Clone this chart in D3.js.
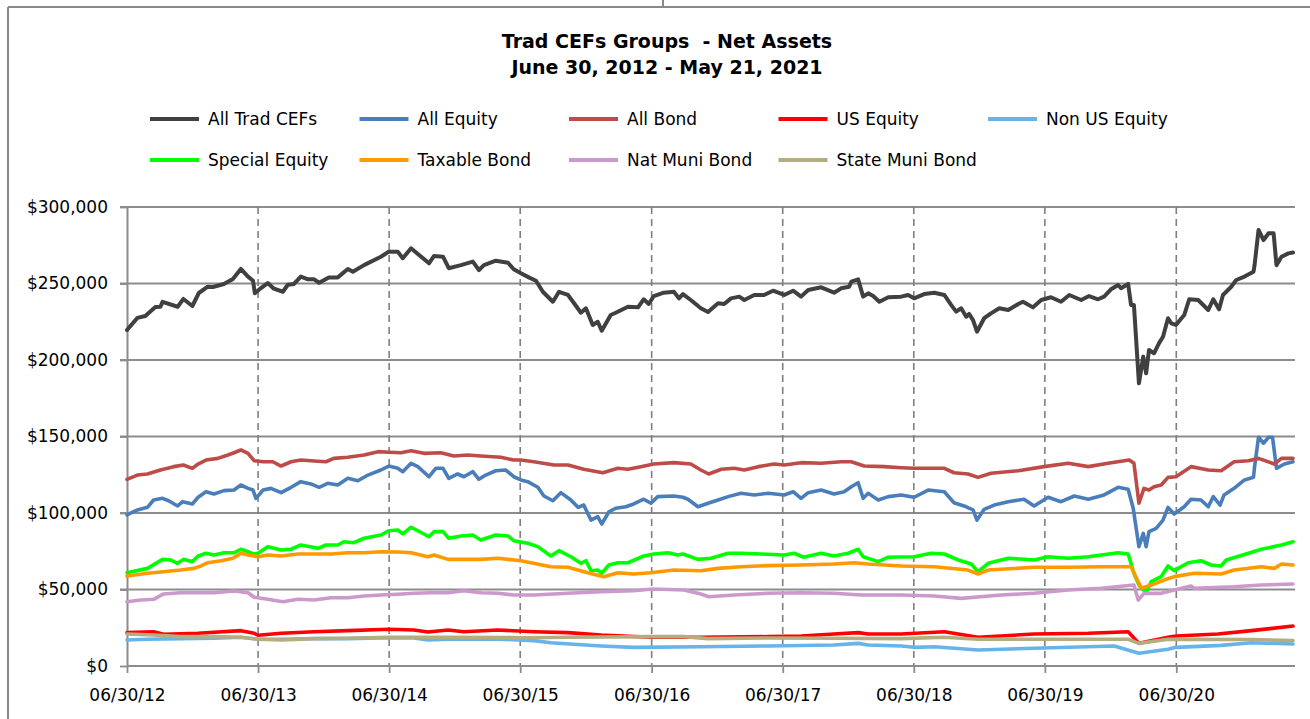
<!DOCTYPE html>
<html>
<head>
<meta charset="utf-8">
<script src="https://cdn.jsdelivr.net/npm/d3@7"></script>
<style>
  html, body { margin: 0; padding: 0; background: #fff; }
  svg { display: block; font-family: "DejaVu Sans", sans-serif; }
</style>
</head>
<body>
<svg id="chart" width="1310" height="719"></svg>
<script>
// Net assets ($ millions), weekly closes sampled; dates are ISO ordinal (year-dayOfYear)
const allTrad = [
  ["2012-182",219600],["2012-211",227500],["2012-233",228800],["2012-261",234600],["2012-275",234800],["2012-281",238000],["2012-323",234800],["2012-339",239900],["2012-364",235300],
  ["2013-016",243800],["2013-041",247900],["2013-055",247700],["2013-086",249700],["2013-111",253000],["2013-133",259500],["2013-153",254500],["2013-167",251800],["2013-172",243600],["2013-189",247000],["2013-208",250300],["2013-225",246600],["2013-250",244600],["2013-264",249200],["2013-281",249700],["2013-300",254500],["2013-320",252700],["2013-337",252700],["2013-351",250500],
  ["2014-013",254000],["2014-038",254000],["2014-066",259500],["2014-080",257700],["2014-111",262000],["2014-158",267500],["2014-180",270800],["2014-205",270800],["2014-219",266500],["2014-242",273000],["2014-261",269300],["2014-292",263200],["2014-306",268000],["2014-331",267500],["2014-347",260000],
  ["2015-016",262000],["2015-049",264300],["2015-066",258800],["2015-080",262000],["2015-113",264900],["2015-147",263600],["2015-163",259300],["2015-183",256700],["2015-205",254000],["2015-225",251800],["2015-244",244600],["2015-272",238100],["2015-289",244600],["2015-314",242500],["2015-328",238100],["2015-350",230900],["2015-364",233800],
  ["2016-018",222900],["2016-032",225000],["2016-043",219100],["2016-068",229400],["2016-082",230900],["2016-116",234800],["2016-144",234400],["2016-160",239700],["2016-174",236600],["2016-188",241800],["2016-216",244000],["2016-244",244600],["2016-258",240300],["2016-269",243100],["2016-291",239200],["2016-319",233800],["2016-339",231400],
  ["2017-001",237100],["2017-018",236600],["2017-037",240300],["2017-060",241400],["2017-074",239200],["2017-102",242500],["2017-129",242500],["2017-154",245300],["2017-185",242500],["2017-210",245300],["2017-232",241400],["2017-252",245800],["2017-288",247500],["2017-324",244000],["2017-344",246900],
  ["2018-001",247900],["2018-007",251200],["2018-026",252700],["2018-040",241400],["2018-054",243600],["2018-068",241800],["2018-085",238100],["2018-110",241000],["2018-146",241400],["2018-165",242500],["2018-182",240300],["2018-210",243100],["2018-238",244000],["2018-266",242500],["2018-285",236000],["2018-299",231600],["2018-313",233800],["2018-327",228300],["2018-335",230100],["2018-346",226100],["2018-357",218500],
  ["2019-012",227300],["2019-031",230500],["2019-054",233800],["2019-079",232700],["2019-107",236600],["2019-120",238100],["2019-148",234400],["2019-171",239200],["2019-198",241000],["2019-226",238100],["2019-249",242500],["2019-282",239200],["2019-304",241800],["2019-329",239700],["2019-346",241400],["2019-365",246200],
  ["2020-020",249000],["2020-028",246900],["2020-048",249700],["2020-056",236000],["2020-064",236000],["2020-078",184800],["2020-090",202200],["2020-098",191300],["2020-106",206500],["2020-120",204400],["2020-134",211000],["2020-145",215200],["2020-159",227300],["2020-168",224000],["2020-181",222900],["2020-204",229400],["2020-218",239700],["2020-243",239200],["2020-271",232700],["2020-285",239700],["2020-301",233100],["2020-312",242500],["2020-335",247900],["2020-349",252300],
  ["2021-006",254500],["2021-031",257700],["2021-034",262000],["2021-045",285000],["2021-059",278400],["2021-073",282800],["2021-087",282800],["2021-095",262000],["2021-109",267500],["2021-128",269700],["2021-141",270200]
];

const allEquity = [
  ["2012-182",98700],["2012-211",102000],["2012-239",103700],["2012-256",108500],["2012-281",109600],["2012-298",108000],["2012-323",104600],["2012-337",107400],["2012-364",105900],
  ["2013-014",110300],["2013-036",113900],["2013-058",112400],["2013-086",114600],["2013-114",115000],["2013-133",118300],["2013-153",116100],["2013-167",115000],["2013-175",109600],["2013-195",115000],["2013-217",116100],["2013-245",113300],["2013-273",116800],["2013-300",120500],["2013-328",119000],["2013-351",116800],
  ["2014-010",119400],["2014-038",118300],["2014-066",122700],["2014-094",121100],["2014-122",124800],["2014-158",128100],["2014-180",130700],["2014-205",129200],["2014-219",127000],["2014-242",132500],["2014-261",130300],["2014-292",123700],["2014-311",129200],["2014-331",129200],["2014-347",122700],
  ["2015-007",125500],["2015-024",123700],["2015-049",127000],["2015-066",122000],["2015-085",124800],["2015-113",127600],["2015-141",128100],["2015-163",123700],["2015-183",121600],["2015-202",120500],["2015-230",116800],["2015-247",111100],["2015-272",108000],["2015-294",113300],["2015-322",108500],["2015-342",103700],["2015-358",105200],
  ["2016-013",95400],["2016-032",97600],["2016-043",92800],["2016-063",100800],["2016-082",103100],["2016-110",104100],["2016-132",105900],["2016-160",109000],["2016-180",106400],["2016-199",110700],["2016-244",111100],["2016-269",110300],["2016-283",109000],["2016-311",104100],["2016-339",106400],
  ["2017-001",108500],["2017-029",110700],["2017-065",112900],["2017-102",111800],["2017-141",112900],["2017-185",111800],["2017-210",113900],["2017-232",109600],["2017-252",113300],["2017-288",115000],["2017-324",112400],["2017-352",113900],
  ["2018-007",117200],["2018-026",119800],["2018-040",109600],["2018-054",112900],["2018-068",110700],["2018-082",108500],["2018-110",110700],["2018-146",111800],["2018-182",110300],["2018-221",115000],["2018-266",113900],["2018-293",106700],["2018-321",104600],["2018-346",102000],["2018-357",95400],
  ["2019-012",102400],["2019-040",105200],["2019-079",107400],["2019-123",109000],["2019-151",104600],["2019-190",110300],["2019-226",107400],["2019-263",111100],["2019-302",109000],["2019-346",111800],
  ["2020-020",116800],["2020-048",115500],["2020-062",103100],["2020-078",78000],["2020-090",86700],["2020-098",78000],["2020-106",87800],["2020-126",90000],["2020-145",95400],["2020-159",103700],["2020-176",99300],["2020-204",104100],["2020-223",109000],["2020-251",108500],["2020-271",104100],["2020-285",110700],["2020-304",105200],["2020-315",111800],["2020-343",116100],
  ["2021-006",121600],["2021-031",123300],["2021-034",130300],["2021-045",149500],["2021-059",145600],["2021-073",149500],["2021-084",149500],["2021-095",129200],["2021-117",132000],["2021-141",133500]
];

const allBond = [
  ["2012-182",122000],["2012-211",124800],["2012-239",125500],["2012-275",128100],["2012-312",130300],["2012-339",131400],["2012-364",129200],
  ["2013-014",132000],["2013-036",134600],["2013-069",135700],["2013-097",137900],["2013-114",139400],["2013-133",141200],["2013-153",139000],["2013-170",134200],["2013-195",133500],["2013-222",133500],["2013-245",130700],["2013-273",133500],["2013-300",134600],["2013-337",134000],
  ["2014-005",133500],["2014-027",135700],["2014-066",136400],["2014-111",137900],["2014-150",140100],["2014-180",139700],["2014-214",139400],["2014-242",140700],["2014-278",139000],["2014-325",139400],["2014-361",137300],
  ["2015-035",137900],["2015-071",137300],["2015-127",136400],["2015-163",134600],["2015-183",134600],["2015-219",133500],["2015-275",131400],["2015-314",131400],["2015-358",128600],
  ["2016-046",126300],["2016-088",129200],["2016-116",128600],["2016-152",130300],["2016-188",132000],["2016-244",132900],["2016-291",132000],["2016-319",128100],["2016-341",125500],
  ["2017-010",128600],["2017-046",129200],["2017-074",128100],["2017-113",130300],["2017-157",132000],["2017-185",131400],["2017-232",132900],["2017-288",132500],["2017-344",133500],
  ["2018-007",133500],["2018-043",130700],["2018-098",130300],["2018-146",129600],["2018-182",129200],["2018-238",129200],["2018-266",129200],["2018-293",126300],["2018-332",125500],["2018-360",123300],
  ["2019-031",126000],["2019-107",127600],["2019-179",130300],["2019-246",132500],["2019-302",130300],["2019-357",132500],
  ["2020-051",134600],["2020-064",132500],["2020-078",106400],["2020-092",116100],["2020-106",115000],["2020-120",117200],["2020-140",118300],["2020-159",123300],["2020-181",123700],["2020-223",130300],["2020-271",128100],["2020-307",127600],["2020-343",133500],
  ["2021-017",134200],["2021-045",135700],["2021-089",132000],["2021-109",135700],["2021-141",135700]
];

const usEquity = [
  ["2012-182",21800],["2012-256",22400],["2012-284",20700],
  ["2013-014",21400],["2013-133",23100],["2013-170",21400],["2013-181",20100],["2013-245",21400],["2013-337",22400],
  ["2014-066",23100],["2014-180",24000],["2014-250",23500],["2014-289",22200],["2014-345",23500],
  ["2015-024",22400],["2015-119",23500],["2015-219",22400],["2015-314",21800],
  ["2016-041",20300],["2016-180",18800],["2016-319",18800],
  ["2017-141",19200],["2017-232",19600],["2017-324",20900],
  ["2018-026",21800],["2018-054",20900],["2018-146",20900],["2018-266",22400],["2018-360",18800],
  ["2019-151",20900],["2019-302",21400],
  ["2020-048",22400],["2020-078",14800],["2020-159",18800],["2020-181",19600],["2020-298",20900],
  ["2021-025",23100],["2021-141",26100]
];

const nonUsEquity = [
  ["2012-182",17000],["2012-239",17500],["2012-331",17900],
  ["2013-058",18100],["2013-133",18800],["2013-181",17500],["2013-245",17500],["2013-337",17900],
  ["2014-066",17900],["2014-180",18500],["2014-250",18300],["2014-289",17000],["2014-345",17500],
  ["2015-071",17500],["2015-127",17500],["2015-219",16600],["2015-266",15200],
  ["2016-041",13100],["2016-132",12200],["2016-319",12600],
  ["2017-141",13100],["2017-324",13700],
  ["2018-026",14800],["2018-054",13700],["2018-146",13100],["2018-182",12200],["2018-238",12600],["2018-360",10500],
  ["2019-151",11600],
  ["2020-009",13100],["2020-078",8300],["2020-159",10900],["2020-181",12200],["2020-307",13500],
  ["2021-025",15200],["2021-141",14400]
];

const specialEquity = [
  ["2012-182",61000],["2012-239",63800],["2012-281",69700],["2012-303",69300],["2012-323",67100],["2012-339",69700],["2012-364",68200],
  ["2013-014",71900],["2013-036",73700],["2013-058",72500],["2013-086",74000],["2013-114",74000],["2013-133",76300],["2013-153",74700],["2013-167",73200],["2013-181",73700],["2013-208",78000],["2013-245",75800],["2013-273",76300],["2013-300",79100],["2013-348",76900],
  ["2014-005",79100],["2014-038",79100],["2014-055",81200],["2014-083",80600],["2014-111",83500],["2014-158",85600],["2014-180",88400],["2014-205",88900],["2014-219",86300],["2014-242",90700],["2014-261",88400],["2014-292",84500],["2014-306",87800],["2014-331",87800],["2014-347",83500],
  ["2015-016",85000],["2015-049",85600],["2015-071",82400],["2015-113",85600],["2015-147",85000],["2015-163",81900],["2015-202",80200],["2015-230",78000],["2015-266",71900],["2015-289",75400],["2015-322",71400],["2015-350",67100],["2015-364",68800],
  ["2016-013",62300],["2016-032",62700],["2016-043",60600],["2016-063",66000],["2016-088",67500],["2016-116",67500],["2016-160",71900],["2016-188",73200],["2016-227",74000],["2016-255",72500],["2016-269",73200],["2016-311",69700],["2016-347",70400],
  ["2017-029",73700],["2017-065",73700],["2017-121",73200],["2017-185",72500],["2017-213",73700],["2017-238",71100],["2017-288",73700],["2017-324",71900],["2017-363",73700],
  ["2018-026",76300],["2018-040",71400],["2018-082",68200],["2018-110",71100],["2018-182",71400],["2018-229",73700],["2018-266",73200],["2018-305",69300],["2018-341",66700],["2018-360",61600],
  ["2019-023",67100],["2019-079",70400],["2019-151",69300],["2019-190",71400],["2019-246",70400],["2019-302",71400],
  ["2020-020",74000],["2020-048",73200],["2020-064",60600],["2020-078",52900],["2020-098",47900],["2020-112",55100],["2020-140",58400],["2020-159",65400],["2020-176",62300],["2020-215",67500],["2020-251",68800],["2020-279",66000],["2020-307",65400],["2020-321",69300],
  ["2021-017",73700],["2021-053",76300],["2021-109",79100],["2021-141",81200]
];

const taxableBond = [
  ["2012-182",58800],["2012-239",60600],["2012-284",61600],["2012-331",62700],
  ["2013-002",63800],["2013-022",65400],["2013-041",67500],["2013-078",68800],["2013-111",70400],["2013-133",73700],["2013-153",72500],["2013-181",71400],["2013-208",72500],["2013-245",71900],["2013-292",73200],["2013-337",73200],
  ["2014-019",73200],["2014-066",74000],["2014-111",74000],["2014-158",74700],["2014-205",74500],["2014-242",74000],["2014-289",71400],["2014-306",72500],["2014-345",69700],
  ["2015-024",69700],["2015-071",69700],["2015-119",70400],["2015-183",68800],["2015-266",64900],["2015-314",64500],
  ["2016-004",61000],["2016-049",58400],["2016-088",61000],["2016-132",60100],["2016-180",61000],["2016-244",62700],["2016-319",62300],
  ["2017-001",63800],["2017-065",64900],["2017-141",65600],["2017-232",66000],["2017-324",66700],
  ["2018-015",67500],["2018-054",66700],["2018-146",65400],["2018-238",64900],["2018-332",62700],["2018-360",60100],
  ["2019-023",62700],["2019-151",64500],["2019-246",64500],["2019-338",64900],
  ["2020-056",64900],["2020-076",55100],["2020-084",50800],["2020-112",52900],["2020-148",56200],["2020-176",58400],["2020-232",60600],["2020-307",60100],["2020-343",62700],
  ["2021-053",64900],["2021-089",63800],["2021-109",66700],["2021-141",66000]
];

const natMuniBond = [
  ["2012-182",42000],["2012-220",43100],["2012-256",43600],["2012-284",47100],["2012-331",47900],
  ["2013-014",47900],["2013-058",47900],["2013-114",49000],["2013-153",47900],["2013-170",44900],["2013-208",43600],["2013-250",42000],["2013-292",43600],["2013-337",43100],
  ["2014-019",44600],["2014-066",44600],["2014-111",45800],["2014-158",46400],["2014-205",46900],["2014-250",47500],["2014-297",47900],["2014-345",47900],
  ["2015-024",49200],["2015-071",47900],["2015-119",47500],["2015-163",46400],["2015-219",46400],["2015-314",47500],
  ["2016-041",48600],["2016-132",49200],["2016-185",50300],["2016-272",49700],["2016-319",47100],["2016-341",45300],
  ["2017-046",46400],["2017-141",47500],["2017-232",47900],["2017-324",47500],
  ["2018-034",46400],["2018-146",46400],["2018-238",45800],["2018-313",44200],
  ["2019-059",46400],["2019-151",47500],["2019-246",49700],["2019-338",50800],
  ["2020-064",52900],["2020-076",43100],["2020-092",47500],["2020-140",47500],["2020-176",49700],["2020-223",52300],["2020-232",50800],["2020-343",51800],
  ["2021-053",52900],["2021-141",53600]
];

const stateMuniBond = [
  ["2012-182",20900],["2012-256",20300],["2012-331",19200],
  ["2013-058",19200],["2013-133",18800],["2013-181",17500],["2013-245",17000],["2013-337",17900],
  ["2014-066",18100],["2014-180",18800],["2014-345",18800],
  ["2015-205",18500],["2015-314",18800],
  ["2016-180",19200],["2016-272",19200],["2016-339",17900],
  ["2017-141",18300],["2017-324",18100],
  ["2018-146",17900],["2018-266",18800],["2018-360",17500],
  ["2019-151",17500],
  ["2020-048",17500],["2020-078",14800],["2020-159",17500],
  ["2021-025",17300],["2021-141",16600]
];

const seriesNames = ["All Trad CEFs","All Equity","All Bond","US Equity","Non US Equity",
                     "Special Equity","Taxable Bond","Nat Muni Bond","State Muni Bond"];
const seriesColors = ["#404040","#4a7ebb","#be4b48","#ff0000","#66b4ea",
                      "#00ff00","#ff9900","#cc99cc","#b3ad80"];
const seriesData = [allTrad, allEquity, allBond, usEquity, nonUsEquity,
                    specialEquity, taxableBond, natMuniBond, stateMuniBond];

const yTickValues = [0, 50000, 100000, 150000, 200000, 250000, 300000];
const xTickDates = ["2012-182","2013-181","2014-181","2015-181","2016-182","2017-181","2018-181","2019-181","2020-182"];
const periodStart = "2012-182", periodEnd = "2021-141";
const titleLines = ["Trad CEFs Groups  - Net Assets", "June 30, 2012 - May 21, 2021"];

// ---- drawing ----
const parseDay = s => { const [yr, doy] = s.split("-").map(Number); return new Date(yr, 0, doy); };

const svg = d3.select("#chart");
const plot = { left: 127, right: 1295, top: 207, bottom: 666 };
const gridColor = "#8c8c8c";

const x = d3.scaleTime()
  .domain([parseDay(periodStart), parseDay(periodEnd)])
  .range([plot.left, 1293]);
const y = d3.scaleLinear().domain([0, 300000]).range([plot.bottom, plot.top]);

// outer frame
svg.append("line").attr("x1", 8).attr("x2", 8).attr("y1", 7).attr("y2", 719)
  .attr("stroke", "#8a8a8a").attr("stroke-width", 2);
svg.append("line").attr("x1", 8).attr("x2", 1310).attr("y1", 7).attr("y2", 7)
  .attr("stroke", "#8a8a8a").attr("stroke-width", 2);
svg.append("line").attr("x1", 663).attr("x2", 663).attr("y1", 0).attr("y2", 7)
  .attr("stroke", "#8a8a8a").attr("stroke-width", 2);

// title
svg.append("g").selectAll("text").data(titleLines).join("text")
  .attr("x", 667).attr("y", (d, i) => 48 + i * 26)
  .attr("text-anchor", "middle")
  .attr("font-size", 19).attr("font-weight", "bold")
  .style("white-space", "pre")
  .text(d => d);

// legend
const legend = svg.append("g").selectAll("g").data(seriesNames).join("g")
  .attr("transform", (d, i) => `translate(${150 + (i % 5) * 209.5},${119 + Math.floor(i / 5) * 41})`);
legend.append("line").attr("x1", 0).attr("x2", 49).attr("y1", 0).attr("y2", 0)
  .attr("stroke", (d, i) => seriesColors[i]).attr("stroke-width", 4);
legend.append("text").attr("x", 58).attr("y", 0).attr("dy", "0.36em")
  .attr("font-size", 17).attr("fill", "#000").text(d => d);

// horizontal gridlines
svg.append("g").selectAll("line").data(yTickValues.filter(v => v > 0)).join("line")
  .attr("x1", plot.left - 7).attr("x2", plot.right)
  .attr("y1", d => y(d)).attr("y2", d => y(d))
  .attr("stroke", gridColor).attr("stroke-width", 1.8);

// vertical dashed gridlines
svg.append("g").selectAll("line").data(xTickDates.slice(1)).join("line")
  .attr("x1", d => x(parseDay(d))).attr("x2", d => x(parseDay(d)))
  .attr("y1", plot.top).attr("y2", plot.bottom)
  .attr("stroke", "#7f7f7f").attr("stroke-width", 1.6).attr("stroke-dasharray", "7,5");

// axes
const yAxis = svg.append("g").attr("transform", `translate(${plot.left},0)`)
  .call(d3.axisLeft(y).tickValues(yTickValues).tickSize(7).tickSizeOuter(0)
    .tickPadding(12).tickFormat(d3.format("$,")));
const xAxis = svg.append("g").attr("transform", `translate(0,${plot.bottom})`)
  .call(d3.axisBottom(x).tickValues(xTickDates.map(parseDay)).tickSize(7).tickSizeOuter(0)
    .tickPadding(16).tickFormat(d3.timeFormat("%m/%d/%y")));
[yAxis, xAxis].forEach(g => {
  g.select(".domain").attr("stroke", gridColor).attr("stroke-width", 2);
  g.selectAll(".tick line").attr("stroke", gridColor).attr("stroke-width", 1.8);
  g.selectAll(".tick text").attr("font-size", 17).attr("fill", "#000")
    .attr("font-family", "DejaVu Sans, sans-serif");
});
xAxis.select(".domain").attr("d", `M${plot.left},0H${plot.right}`);

// series lines
const line = d3.line()
  .x(d => x(parseDay(d[0])))
  .y(d => y(d[1]));
svg.append("g").selectAll("path").data(seriesData).join("path")
  .attr("d", d => line(d))
  .attr("fill", "none")
  .attr("stroke", (d, i) => seriesColors[i])
  .attr("stroke-width", (d, i) => i === 0 ? 4 : 3.6)
  .attr("stroke-linejoin", "round")
  .attr("stroke-linecap", "round");
</script>
</body>
</html>
